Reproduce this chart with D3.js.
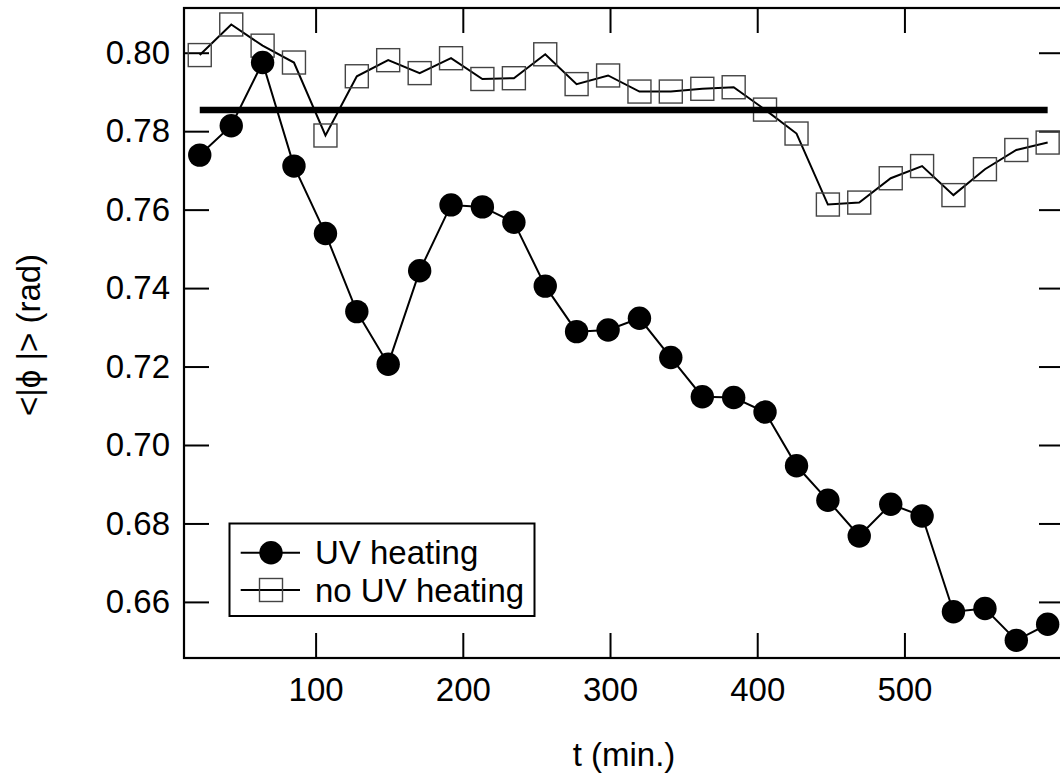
<!DOCTYPE html>
<html>
<head>
<meta charset="utf-8">
<script src="https://cdn.jsdelivr.net/npm/d3@7"></script>
<style>
  body { margin: 0; background: #fff; }
  svg { display: block; font-family: "Liberation Sans", Arial, sans-serif; }
</style>
</head>
<body>
<svg width="1060" height="780"></svg>
<script>
// time (min.) of each measurement
var times = [21.3, 42.7, 64, 85.3, 106.7, 128, 149.3, 170.7, 192, 213.3, 234.7, 256, 277.3, 298.7,
             320, 341.3, 362.7, 384, 405.3, 426.7, 448, 469.3, 490.7, 512, 533.3, 554.7, 576, 597.3];

// <|phi|> with UV heating
var uvHeating = [0.7739, 0.7814, 0.7975, 0.7711, 0.7539, 0.7340, 0.7206, 0.7444, 0.7612, 0.7607,
                 0.7568, 0.7405, 0.7289, 0.7293, 0.7323, 0.7223, 0.7123, 0.7121, 0.7084, 0.6947,
                 0.6859, 0.6768, 0.6849, 0.6819, 0.6575, 0.6583, 0.6502, 0.6543];

// <|phi|> without UV heating
var noUvHeating = [0.7994, 0.8072, 0.8018, 0.7975, 0.7789, 0.7940, 0.7981, 0.7948, 0.7986, 0.7933,
                   0.7935, 0.7996, 0.7920, 0.7942, 0.7901, 0.7901, 0.7908, 0.7912, 0.7855, 0.7794,
                   0.7613, 0.7618, 0.7680, 0.7711, 0.7637, 0.7703, 0.7752, 0.7771];

var refLevel = Math.PI / 4;   // the thick horizontal line
var xTicks = [100, 200, 300, 400, 500];
var yTicks = [0.66, 0.68, 0.70, 0.72, 0.74, 0.76, 0.78, 0.80];
var legendLabels = ["UV heating", "no UV heating"];

var svg = d3.select("svg");
// plot box (note: "top" is reserved on window, so use other names)
var pL = 184, pR = 1064, pT = 8, pB = 658;
var fs = 33;

var x = d3.scaleLinear().domain([10.6, 608.4]).range([pL, pR]);
var y = d3.scaleLinear().domain([0.6457, 0.8114]).range([pB, pT]);

// axes, ticks pointing inside
svg.append("g")
    .attr("transform", "translate(0," + pB + ")")
    .call(d3.axisBottom(x).tickValues(xTicks).tickSizeInner(-25).tickSizeOuter(0).tickPadding(20).tickFormat(d3.format("d")))
    .call(function(g){ g.select(".domain").remove() });
svg.append("g")
    .attr("transform", "translate(0," + pT + ")")
    .call(d3.axisTop(x).tickValues(xTicks).tickSizeInner(-25).tickSizeOuter(0).tickFormat(""))
    .call(function(g){ g.select(".domain").remove() });
svg.append("g")
    .attr("transform", "translate(" + pL + ",0)")
    .call(d3.axisLeft(y).tickValues(yTicks).tickSizeInner(-25).tickSizeOuter(0).tickPadding(14).tickFormat(d3.format(".2f")))
    .call(function(g){ g.select(".domain").remove() });
svg.append("g")
    .attr("transform", "translate(" + pR + ",0)")
    .call(d3.axisRight(y).tickValues(yTicks).tickSizeInner(-25).tickSizeOuter(0).tickFormat(""))
    .call(function(g){ g.select(".domain").remove() });

svg.selectAll(".tick line").attr("stroke", "#000").attr("stroke-width", 2);
svg.selectAll(".tick text").attr("font-size", fs).attr("font-family", "Liberation Sans, Arial, sans-serif").attr("fill", "#000");

// frame
svg.append("rect")
    .attr("x", pL).attr("y", pT)
    .attr("width", pR - pL).attr("height", pB - pT)
    .attr("fill", "none").attr("stroke", "#000").attr("stroke-width", 2.2);

var idx = d3.range(times.length);
var line = function(vals){
  return d3.line().x(function(i){ return x(times[i]) }).y(function(i){ return y(vals[i]) })(idx);
};

// no UV heating: line + open squares
svg.append("path").attr("d", line(noUvHeating))
    .attr("fill", "none").attr("stroke", "#000").attr("stroke-width", 2);
svg.selectAll("rect.sq").data(idx).enter().append("rect")
    .attr("class", "sq")
    .attr("x", function(i){ return x(times[i]) - 11.5 })
    .attr("y", function(i){ return y(noUvHeating[i]) - 11.5 })
    .attr("width", 23).attr("height", 23)
    .attr("fill", "none").attr("stroke", "#444").attr("stroke-width", 1.4);

// reference level
svg.append("line")
    .attr("x1", x(times[0])).attr("x2", x(times[times.length - 1]))
    .attr("y1", y(refLevel)).attr("y2", y(refLevel))
    .attr("stroke", "#000").attr("stroke-width", 6.5);

// UV heating: line + filled circles
svg.append("path").attr("d", line(uvHeating))
    .attr("fill", "none").attr("stroke", "#000").attr("stroke-width", 2);
svg.selectAll("circle.uv").data(idx).enter().append("circle")
    .attr("class", "uv")
    .attr("cx", function(i){ return x(times[i]) })
    .attr("cy", function(i){ return y(uvHeating[i]) })
    .attr("r", 11.7)
    .attr("fill", "#000");

// axis titles
svg.append("text")
    .attr("x", (pL + pR) / 2).attr("y", 766)
    .attr("text-anchor", "middle").attr("font-size", fs)
    .text("t (min.)");
svg.append("text")
    .attr("transform", "translate(40,335) rotate(-90)")
    .attr("text-anchor", "middle").attr("font-size", fs)
    .text("<|\u03d5 |> (rad)");

// legend
var lg = svg.append("g");
lg.append("rect")
    .attr("x", 229.5).attr("y", 523.5).attr("width", 305).attr("height", 92.5)
    .attr("fill", "#fff").attr("stroke", "#000").attr("stroke-width", 2);
var rows = [552.7, 590];
legendLabels.forEach(function(lbl, k){
  var ry = rows[k];
  lg.append("line").attr("x1", 240.7).attr("x2", 300).attr("y1", ry).attr("y2", ry)
      .attr("stroke", "#000").attr("stroke-width", 2);
  if (k === 0) {
    lg.append("circle").attr("cx", 271).attr("cy", ry).attr("r", 11.7).attr("fill", "#000");
  } else {
    lg.append("rect").attr("x", 271 - 11.5).attr("y", ry - 11.5).attr("width", 23).attr("height", 23)
        .attr("fill", "none").attr("stroke", "#444").attr("stroke-width", 1.4);
  }
  lg.append("text").attr("x", 315).attr("y", ry + 11.5).attr("font-size", fs).text(lbl);
});
</script>
</body>
</html>
